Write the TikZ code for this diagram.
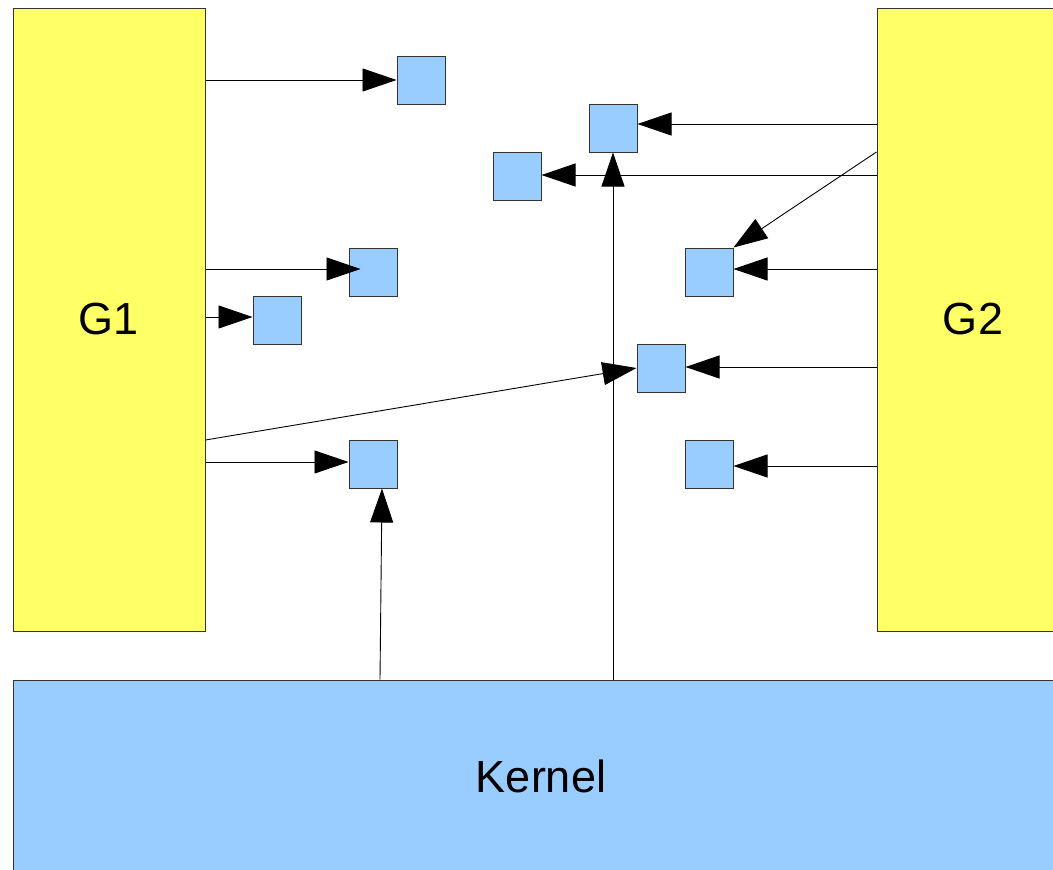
\documentclass[tikz,border=0pt]{standalone}
\usepackage{fontspec}
\setmainfont{Liberation Sans}
\usetikzlibrary{arrows.meta}
\definecolor{groupyellow}{HTML}{FFFF66}
\definecolor{cellblue}{HTML}{99CCFF}
\definecolor{edgegray}{HTML}{333333}
\tikzset{
  group/.style={draw=edgegray, line width=1pt, fill=groupyellow, inner sep=0pt,
    minimum width=192pt, minimum height=623pt, font=\fontsize{45}{54}\selectfont},
  kernelbox/.style={draw=edgegray, line width=1pt, fill=cellblue, inner sep=0pt,
    minimum width=1056pt, minimum height=192pt, font=\fontsize{45}{54}\selectfont},
  cell/.style={draw=edgegray, line width=1pt, fill=cellblue, inner sep=0pt,
    minimum width=48pt, minimum height=48pt},
  link/.style={draw=black, line width=0.9pt,
    -{Triangle[length=34pt,width=23pt]}}
}
\begin{document}
\begin{tikzpicture}[x=1pt, y=-1pt]
  \useasboundingbox (0,0) rectangle (1053,870);
  \clip (0,0) rectangle (1053,870);

  % large blocks
  \node[group] (G1) at (109,319.5) {G1};
  \node[group] (G2) at (973,319.5) {G2};
  \node[kernelbox] (K) at (541,776) {Kernel};

  % small cells
  \node[cell] (A) at (421,80) {};
  \node[cell] (B) at (613,128) {};
  \node[cell] (C) at (517,176) {};
  \node[cell] (D) at (373,272) {};
  \node[cell] (E) at (709,272) {};
  \node[cell] (F) at (277,320) {};
  \node[cell] (G) at (661,368) {};
  \node[cell] (H) at (373,464) {};
  \node[cell] (I) at (709,464) {};

  % connector end points that are not on a cell anchor
  \coordinate (dTip) at ([xshift=12pt,yshift=3pt]D.west);
  \coordinate (hTip) at ([xshift=9pt]H.south);
  \coordinate (bTip) at ([yshift=4pt]B.east);

  % links from G1
  \draw[link] (G1.east |- A.west) -- (A.west);
  \draw[link] (G1.east |- dTip) -- (dTip);
  \draw[link] ([yshift=3pt]G1.east |- F.west) -- ([yshift=3pt]F.west);
  \draw[link] (G1.east |- 0,440) -- (G.west);
  \draw[link] ([yshift=2pt]G1.east |- H.west) -- ([yshift=2pt]H.west);

  % links from G2
  \draw[link] (G2.west |- bTip) -- (bTip);
  \draw[link] ([yshift=1pt]G2.west |- C.east) -- ([yshift=1pt]C.east);
  \draw[link] (G2.west |- 0,152) -- (E.north east);
  \draw[link] ([yshift=3pt]G2.west |- E.east) -- ([yshift=3pt]E.east);
  \draw[link] ([yshift=1pt]G2.west |- G.east) -- ([yshift=1pt]G.east);
  \draw[link] ([yshift=-2pt]G2.west |- I.east) -- ([yshift=-2pt]I.east);

  % links from the kernel
  \draw[link] (K.north -| 380,0) -- (hTip);
  \draw[link] (K.north -| B.south) -- (B.south);
\end{tikzpicture}
\end{document}
